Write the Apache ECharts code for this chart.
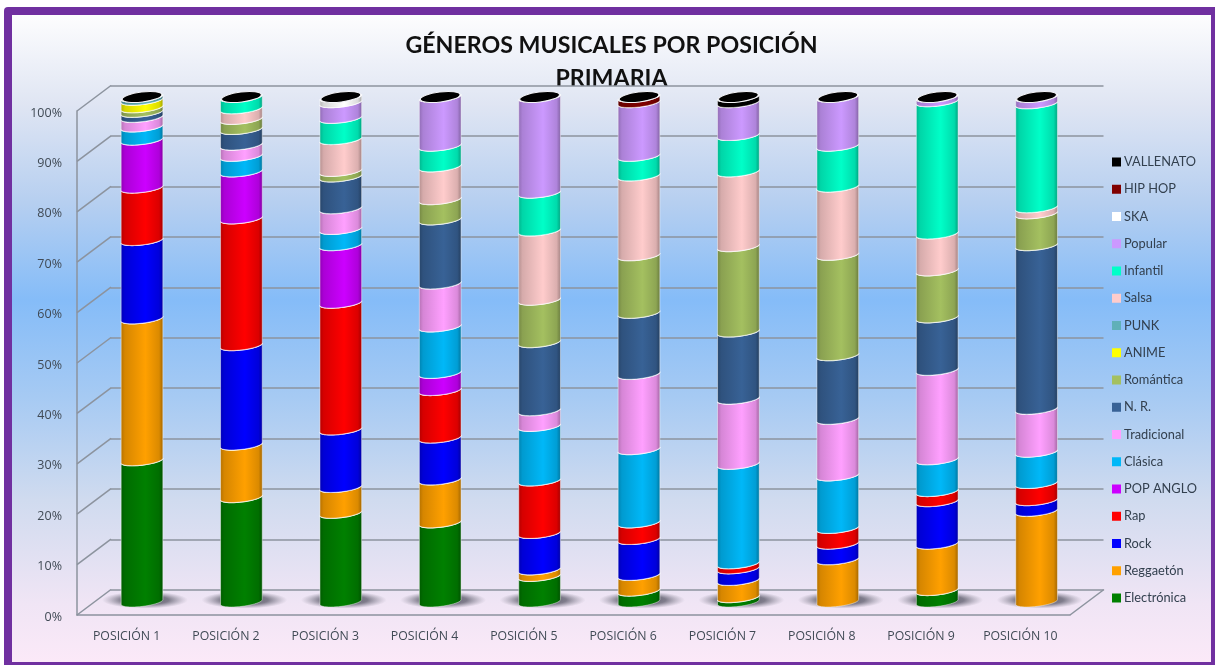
<!DOCTYPE html>
<html>
<head>
<meta charset="utf-8">
<title>Géneros musicales por posición</title>
<script src="https://cdn.jsdelivr.net/npm/echarts@6/dist/echarts.min.js"></script>
<style>
html,body{margin:0;padding:0;background:#fff;}
#chart{width:1215px;height:665px;}
</style>
</head>
<body>
<div id="chart"></div>
<script>
var posiciones = ['POSICIÓN 1','POSICIÓN 2','POSICIÓN 3','POSICIÓN 4','POSICIÓN 5','POSICIÓN 6','POSICIÓN 7','POSICIÓN 8','POSICIÓN 9','POSICIÓN 10'];
var generos = ['Electrónica','Reggaetón','Rock','Rap','POP ANGLO','Clásica','Tradicional','N. R.','Romántica','ANIME','PUNK','Salsa','Infantil','Popular','SKA','HIP HOP','VALLENATO'];
var colores = ['#008000','#FFA000','#0000FF','#FF0000','#CC00FF','#00B8F8','#FFA0FF','#386296','#A4C060','#FFFF00','#60B0B8','#FFCCCC','#00FFC8','#CC99FF','#FFFFFF','#800000','#000000'];
var ticks = [0,10,20,30,40,50,60,70,80,90,100];

var electronica = [28.0,20.7,17.6,15.7,5.1,2.2,0.9,0,2.3,0];
var reggaeton   = [28.1,10.4,5.1,8.5,1.3,3.1,3.4,8.4,9.2,18.0];
var rock        = [15.5,19.7,11.4,8.3,7.2,7.1,2.3,3.1,8.4,2.1];
var rap         = [10.4,25.1,25.1,9.4,10.4,3.3,1.0,3.1,2.0,3.4];
var popAnglo    = [9.5,9.3,11.4,3.4,0,0,0,0,0,0];
var clasica     = [2.6,3.1,3.2,9.2,10.8,14.5,19.7,10.4,6.3,6.2];
var tradicional = [1.9,2.2,4.1,8.5,3.1,14.9,12.9,11.2,17.7,8.5];
var nr          = [1.0,3.1,6.3,12.7,13.5,12.1,13.3,12.6,10.4,32.4];
var romantica   = [0.9,2.0,1.1,4.0,8.4,11.4,16.9,19.9,9.3,6.3];
var anime       = [1.5,0,0,0,0,0,0,0,0,0];
var punk        = [0.6,0,0,0,0,0,0,0,0,0];
var salsa       = [0,2.1,6.3,6.5,13.7,15.8,14.8,13.5,7.3,1.2];
var infantil    = [0,2.3,4.2,4.1,7.5,3.9,7.2,8.1,26.2,20.6];
var popular     = [0,0,3.1,9.7,19.0,10.6,6.5,9.7,0.9,1.3];
var ska         = [0,0,1.1,0,0,0,0,0,0,0];
var hipHop      = [0,0,0,0,0,1.1,0,0,0,0];
var vallenato   = [0,0,0,0,0,0,1.1,0,0,0];
var valores = [electronica,reggaeton,rock,rap,popAnglo,clasica,tradicional,nr,romantica,anime,punk,salsa,infantil,popular,ska,hipHop,vallenato];

var chart = echarts.init(document.getElementById('chart'));

// oscurece un color, f entre 0 y 1
function shade(hex, f){
	var n = parseInt(hex.slice(1),16);
	return 'rgb('+Math.round((n>>16&255)*f)+','+Math.round((n>>8&255)*f)+','+Math.round((n&255)*f)+')';
}

var RX = 21, RY = 4.4, TILT = -0.12;
// mitad frontal de la elipse inclinada, de izquierda a derecha
function frente(cx, cy){
	var pts = [], cos = Math.cos(TILT), sin = Math.sin(TILT);
	for(var i=0;i<=24;i++){
		var t = Math.PI - Math.PI*i/24;
		var x = RX*Math.cos(t), y = RY*Math.sin(t);
		pts.push([cx + x*cos - y*sin, cy + x*sin + y*cos]);
	}
	return pts;
}

function cilindro(color, esUltima){
	var fill = {type:'linear',x:0,y:0,x2:1,y2:0,colorStops:[
		{offset:0,color:shade(color,0.7)},
		{offset:0.1,color:shade(color,0.84)},
		{offset:0.58,color:shade(color,1)},
		{offset:0.9,color:shade(color,0.86)},
		{offset:1,color:shade(color,0.62)}
	]};
	return function(params, api){
		var a = api.coord([api.value(0), api.value(1)]);
		var b = api.coord([api.value(0), api.value(2)]);
		var children = [];
		if(api.value(2) - api.value(1) > 0){
			var abajo = frente(a[0], a[1]), arriba = frente(b[0], b[1]);
			children.push({type:'polygon',shape:{points:abajo.concat(arriba.slice().reverse())},
				style:{fill:fill,stroke:'rgba(255,255,255,0.45)',lineWidth:1}});
			children.push({type:'polyline',shape:{points:arriba},
				style:{fill:null,stroke:'rgba(255,255,255,0.92)',lineWidth:1.4}});
		}
		if(esUltima){
			children.push({type:'ellipse',shape:{cx:b[0],cy:b[1],rx:RX-1,ry:RY+0.6},rotation:-TILT,originX:b[0],originY:b[1],
				style:{fill:'#000',stroke:'#f4f4f8',lineWidth:1}});
		}
		return {type:'group',children:children};
	};
}

var series = [];

// lineas de la pared izquierda y del piso
series.push({
	name:'paredes',type:'custom',xAxisIndex:0,yAxisIndex:0,z:1,silent:true,
	data:ticks.map(function(t){return [0,t];}),
	encode:{x:0,y:1},
	renderItem:function(params, api){
		var cs = params.coordSys, y = api.coord([0,api.value(1)])[1];
		var kids = [{type:'line',shape:{x1:cs.x,y1:y,x2:cs.x+34,y2:y-25.5},style:{stroke:'#8c939e',lineWidth:1.5}}];
		if(api.value(1)===0){
			kids.push({type:'line',shape:{x1:cs.x+cs.width,y1:y,x2:cs.x+cs.width+34,y2:y-25.5},style:{stroke:'#8c939e',lineWidth:1.5}});
		}
		return {type:'group',children:kids};
	}
});

// sombra de cada cilindro sobre el piso
series.push({
	name:'sombra',type:'custom',xAxisIndex:2,yAxisIndex:2,z:2,silent:true,
	data:posiciones.map(function(p,i){return [i,0];}),
	encode:{x:0,y:1},
	renderItem:function(params, api){
		var c = api.coord([api.value(0),0]);
		var cx = c[0]+3, cy = c[1]-2;
		return {type:'circle',shape:{cx:cx,cy:cy,r:43},scaleY:0.2,originX:cx,originY:cy,
			style:{fill:{type:'radial',x:0.5,y:0.5,r:0.5,colorStops:[
				{offset:0,color:'rgba(70,70,85,0.9)'},
				{offset:0.55,color:'rgba(80,80,95,0.7)'},
				{offset:0.8,color:'rgba(100,100,115,0.3)'},
				{offset:1,color:'rgba(120,120,135,0)'}
			]}}};
	}
});

generos.forEach(function(g, s){
	series.push({
		name:g,type:'custom',xAxisIndex:2,yAxisIndex:2,z:3,
		itemStyle:{color:colores[s]},
		data:posiciones.map(function(p,i){
			var total = 0, antes = 0;
			valores.forEach(function(v,k){total += v[i]; if(k<s) antes += v[i];});
			return [i, antes/total*100, (antes+valores[s][i])/total*100];
		}),
		encode:{x:0,y:[1,2]},
		renderItem:cilindro(colores[s], s===generos.length-1)
	});
});

var option = {
	animation:false,
	graphic:[
		{type:'rect',z:-20,silent:true,shape:{x:4,y:7,width:1215,height:664,r:4},style:{fill:'#7030A0'}},
		{type:'rect',z:-19,silent:true,shape:{x:12,y:15,width:1199,height:647},style:{fill:{type:'linear',x:0,y:0,x2:0,y2:1,colorStops:[
			{offset:0,color:'#fdfdfe'},
			{offset:0.14,color:'#dfe5f3'},
			{offset:0.29,color:'#b6cff0'},
			{offset:0.44,color:'#85bcf8'},
			{offset:0.59,color:'#a6caf3'},
			{offset:0.75,color:'#d0dbef'},
			{offset:0.91,color:'#f0e5f5'},
			{offset:1,color:'#fbe9f8'}
		]}}}
	],
	title:{
		text:'GÉNEROS MUSICALES POR POSICIÓN\nPRIMARIA',
		left:606.5,top:24,z:-1,textAlign:'center',
		textStyle:{fontFamily:'Lato',fontWeight:'bold',fontSize:23.2,lineHeight:33,color:'#111'}
	},
	legend:{
		orient:'vertical',left:1107,top:150,
		data:generos.slice().reverse(),
		icon:'rect',itemWidth:9,itemHeight:9,itemGap:13.25,
		selectedMode:false,
		textStyle:{fontFamily:'Lato',fontSize:12.8,lineHeight:14,color:'#33404f',padding:[0,0,0,-2]}
	},
	// 0 pared frontal, 1 pared del fondo, 2 cilindros, 3 etiquetas del eje y
	grid:[
		{left:77,top:111,width:993,height:504},
		{left:110.5,top:85.5,width:993,height:504.5},
		{left:92.3,top:97,width:994,height:505},
		{left:77,top:113,width:993,height:504}
	],
	xAxis:[
		{gridIndex:0,type:'category',data:posiciones,
			axisLine:{lineStyle:{color:'#8c939e',width:1.5}},axisTick:{show:false},
			axisLabel:{margin:15,interval:0,fontFamily:'Open Sans',fontSize:12.3,color:'#404a55'}},
		{gridIndex:1,type:'category',data:posiciones,show:false},
		{gridIndex:2,type:'category',data:posiciones,show:false},
		{gridIndex:3,type:'category',data:posiciones,show:false}
	],
	yAxis:[
		{gridIndex:0,type:'value',min:0,max:100,interval:10,
			axisLine:{show:true,lineStyle:{color:'#8c939e',width:1.5}},axisTick:{show:false},splitLine:{show:false},
			axisLabel:{show:false}},
		{gridIndex:1,type:'value',min:0,max:100,interval:10,
			axisLine:{show:false},axisTick:{show:false},axisLabel:{show:false},
			splitLine:{show:true,lineStyle:{color:'#8c939e',width:1.5}}},
		{gridIndex:2,type:'value',min:0,max:100,show:false,splitLine:{show:false}},
		{gridIndex:3,type:'value',min:0,max:100,interval:10,
			axisLine:{show:false},axisTick:{show:false},splitLine:{show:false},
			axisLabel:{margin:15,formatter:'{value}%',fontFamily:'Open Sans',fontSize:12.5,color:'#404a55'}}
	],
	series:series
};
chart.setOption(option);
</script>
</body>
</html>
